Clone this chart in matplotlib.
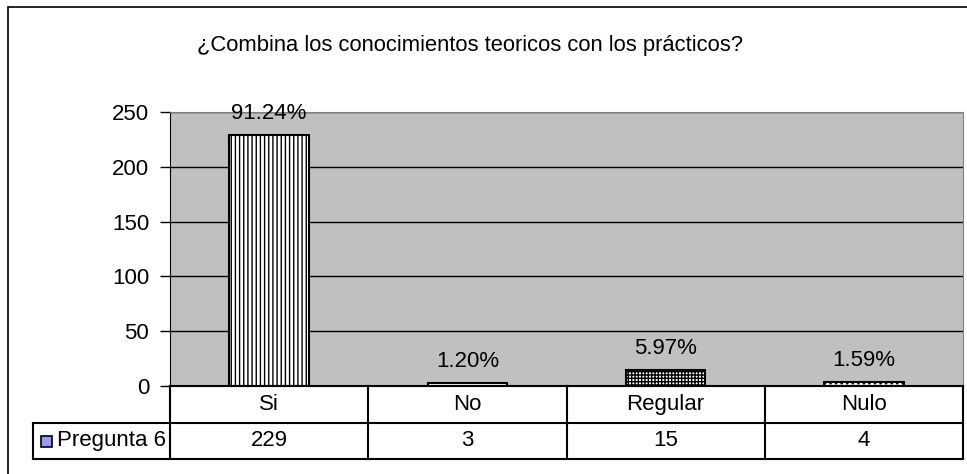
import matplotlib.pyplot as plt
import matplotlib.patches as mpatches
from matplotlib.lines import Line2D

plt.rcParams['font.family'] = ['Liberation Sans', 'DejaVu Sans']
plt.rcParams['hatch.linewidth'] = 1.0

# data
categories = ['Si', 'No', 'Regular', 'Nulo']
values = [229, 3, 15, 4]
pct_labels = ['91.24%', '1.20%', '5.97%', '1.59%']
series_name = 'Pregunta 6'
title = '¿Combina los conocimientos teoricos con los prácticos?'
hatches = ['||||', '---', '+++++', '...']

W, H = 967, 474
fig = plt.figure(figsize=(W / 100, H / 100), dpi=100)

def px_rect(x0, y0, x1, y1):
    # pixel box (top-left origin) -> figure fraction [l, b, w, h]
    return [x0 / W, 1 - y1 / H, (x1 - x0) / W, (y1 - y0) / H]

# outer chart border
fig.add_artist(mpatches.Rectangle((8 / W, -0.1), 1.1, 1 - 7 / H + 0.1,
                                  transform=fig.transFigure, fill=False,
                                  edgecolor='black', lw=1.2))

fig.text(470 / W, 1 - 45 / H, title, ha='center', va='center', fontsize=15.8,
         stretch='condensed')

# plot area
ax = fig.add_axes(px_rect(170, 112, 963, 386))
ax.set_facecolor('#C0C0C0')
x = [i + 0.5 for i in range(len(categories))]
bars = ax.bar(x, values, width=0.4, color='white', edgecolor='black',
              linewidth=1.5, zorder=3)
for b, h in zip(bars, hatches):
    b.set_hatch(h)
for xi, v, lab in zip(x, values, pct_labels):
    ax.annotate(lab, (xi, v), xytext=(0, 11), textcoords='offset pixels',
                ha='center', va='bottom', fontsize=16, zorder=4)

ax.set_xlim(0, len(categories))
ax.set_ylim(0, 250)
ax.set_yticks(range(0, 251, 50))
ax.yaxis.grid(True, color='black', lw=1)
ax.set_axisbelow(True)
ax.set_xticks([])
ax.tick_params(axis='y', length=7, width=1, labelsize=16, pad=8)
for s in ['top', 'right', 'bottom']:
    ax.spines[s].set_color('#808080')
ax.spines['left'].set_color('black')

# data table
tab = fig.add_axes(px_rect(33, 386, 963, 459))
xleft = -137 / (793 / len(categories))
tab.set_xlim(xleft, len(categories))
tab.set_ylim(0, 2)
tab.axis('off')
lk = dict(color='black', lw=1.5, clip_on=False)
tab.add_line(Line2D([0, len(categories)], [2, 2], **lk))
tab.add_line(Line2D([xleft, len(categories)], [1, 1], **lk))
tab.add_line(Line2D([xleft, len(categories)], [0, 0], **lk))
tab.add_line(Line2D([xleft, xleft], [0, 1], **lk))
for i in range(len(categories) + 1):
    tab.add_line(Line2D([i, i], [0, 2], **lk))
for xi, c, v in zip(x, categories, values):
    tab.text(xi, 1.5, c, ha='center', va='center', fontsize=16)
    tab.text(xi, 0.5, str(v), ha='center', va='center', fontsize=16)
tab.add_patch(mpatches.Rectangle((xleft + 0.04, 0.33), 0.055, 0.3,
                                 facecolor='#9999FF', edgecolor='black',
                                 lw=1.2, clip_on=False))
tab.text(xleft + 0.12, 0.5, series_name, ha='left', va='center', fontsize=16)

fig.savefig('out.png', dpi=100)
